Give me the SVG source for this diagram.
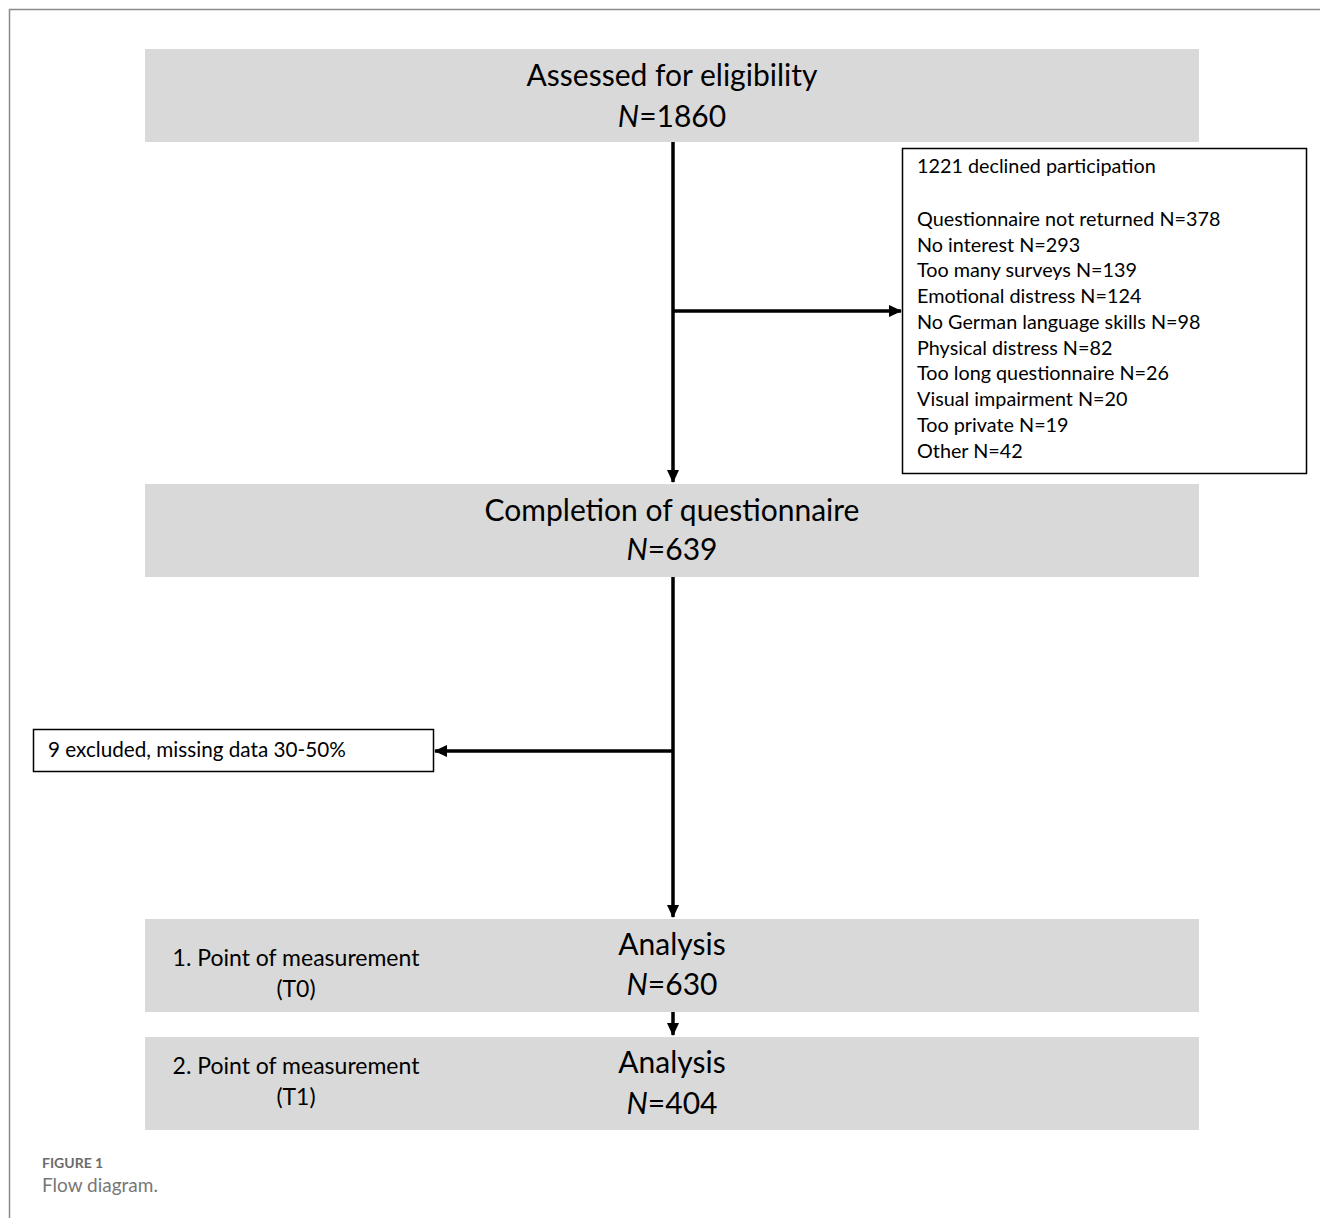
<svg xmlns="http://www.w3.org/2000/svg" width="1320" height="1218" viewBox="0 0 1320 1218">
<style>
.gbox{fill:#d9d9d9;stroke:none}
.wbox{fill:#fff;stroke:#000;stroke-width:1.5}
.t{font-family:Lato,"Liberation Sans",sans-serif;fill:#000}
.big{font-size:30px}
.mid{font-size:23px}
.sm{font-size:19.8px}
.conn{stroke:#000;stroke-width:3.5;fill:none}
.cap{font-family:Lato,"Open Sans","Liberation Sans",sans-serif}
</style>
<defs>
<marker id="ah" markerWidth="14" markerHeight="14" refX="12" refY="7" orient="auto" markerUnits="userSpaceOnUse">
<path d="M0,1 L13,7 L0,13 Z" fill="#000"/>
</marker>
</defs>
<rect x="0" y="0" width="1320" height="1218" fill="#fff"/>
<path d="M9.5,1218 V9.5 H1320" fill="none" stroke="#8a8a8a" stroke-width="1.5"/>

<g id="connectors">
<line class="conn" x1="673" y1="142" x2="673" y2="482" marker-end="url(#ah)"/>
<line class="conn" x1="673" y1="311" x2="901" y2="311" marker-end="url(#ah)"/>
<line class="conn" x1="673" y1="577" x2="673" y2="917" marker-end="url(#ah)"/>
<line class="conn" x1="673" y1="751" x2="435" y2="751" marker-end="url(#ah)"/>
<line class="conn" x1="673" y1="1012" x2="673" y2="1035" marker-end="url(#ah)"/>
</g>

<g id="assessed">
<rect class="gbox" x="145" y="49" width="1054" height="93"/>
<text class="t big" x="672" y="86" text-anchor="middle">Assessed for eligibility</text>
<text class="t big" x="672" y="127" text-anchor="middle"><tspan font-style="italic">N</tspan>=1860</text>
</g>

<g id="declined">
<rect class="wbox" x="902.5" y="148.5" width="404" height="325"/>
<text class="t sm" x="917" y="173">1221 declined participation</text>
<text class="t sm" x="917" y="226">Questionnaire not returned N=378</text>
<text class="t sm" x="917" y="252">No interest N=293</text>
<text class="t sm" x="917" y="277">Too many surveys N=139</text>
<text class="t sm" x="917" y="303">Emotional distress N=124</text>
<text class="t sm" x="917" y="329">No German language skills N=98</text>
<text class="t sm" x="917" y="355">Physical distress N=82</text>
<text class="t sm" x="917" y="380">Too long questionnaire N=26</text>
<text class="t sm" x="917" y="406">Visual impairment N=20</text>
<text class="t sm" x="917" y="432">Too private N=19</text>
<text class="t sm" x="917" y="458">Other N=42</text>
</g>

<g id="completion">
<rect class="gbox" x="145" y="484" width="1054" height="93"/>
<text class="t big" x="672" y="521" text-anchor="middle">Completion of questionnaire</text>
<text class="t big" x="672" y="560" text-anchor="middle"><tspan font-style="italic">N</tspan>=639</text>
</g>

<g id="excluded">
<rect class="wbox" x="33.5" y="729.5" width="400" height="42"/>
<text class="t" font-size="20.7" x="48" y="757">9 excluded, missing data 30-50%</text>
</g>

<g id="analysis-t0">
<rect class="gbox" x="145" y="919" width="1054" height="93"/>
<text class="t mid" x="296" y="966" text-anchor="middle">1. Point of measurement</text>
<text class="t mid" x="296" y="997" text-anchor="middle">(T0)</text>
<text class="t big" x="672" y="955" text-anchor="middle">Analysis</text>
<text class="t big" x="672" y="995" text-anchor="middle"><tspan font-style="italic">N</tspan>=630</text>
</g>

<g id="analysis-t1">
<rect class="gbox" x="145" y="1037" width="1054" height="93"/>
<text class="t mid" x="296" y="1074" text-anchor="middle">2. Point of measurement</text>
<text class="t mid" x="296" y="1105" text-anchor="middle">(T1)</text>
<text class="t big" x="672" y="1073" text-anchor="middle">Analysis</text>
<text class="t big" x="672" y="1114" text-anchor="middle"><tspan font-style="italic">N</tspan>=404</text>
</g>

<g id="caption">
<text class="cap" x="42" y="1168" font-size="14" font-weight="bold" fill="#6b6b6b">FIGURE 1</text>
<text class="cap" x="42" y="1192" font-size="19" fill="#777">Flow diagram.</text>
</g>
</svg>
